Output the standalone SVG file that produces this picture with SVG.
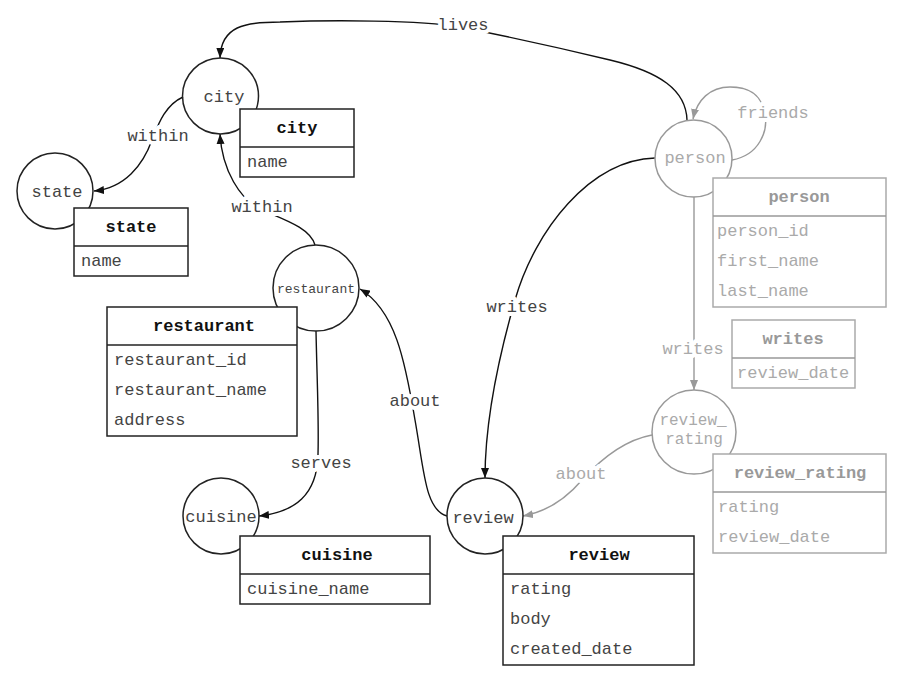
<svg xmlns="http://www.w3.org/2000/svg" width="903" height="673" viewBox="0 0 903 673">
<style>
text{font-family:"Liberation Mono","Courier New",monospace;font-size:17px}
.c{text-anchor:middle}
.k{fill:#444}
.g{fill:#aaa}
.hk{font-weight:bold;fill:#111}
.hg{font-weight:bold;fill:#999}
.nk{fill:none;stroke:#222;stroke-width:1.5}
.ng{fill:none;stroke:#999;stroke-width:1.5}
.bk{fill:#fff;stroke:#222;stroke-width:1.5}
.bg{fill:#fff;stroke:#aaa;stroke-width:1.5}
.ek{fill:none;stroke:#111;stroke-width:1.4}
.eg{fill:none;stroke:#999;stroke-width:1.4}
.lbl{paint-order:stroke;stroke:#fff;stroke-width:8px;stroke-linejoin:round}
</style>
<defs>
<marker id="ak" viewBox="0 0 10 8" refX="10" refY="4" markerWidth="10" markerHeight="8" markerUnits="userSpaceOnUse" orient="auto"><path d="M0,0 L10,4 L0,8 z" fill="#111"/></marker>
<marker id="ag" viewBox="0 0 10 8" refX="10" refY="4" markerWidth="10" markerHeight="8" markerUnits="userSpaceOnUse" orient="auto"><path d="M0,0 L10,4 L0,8 z" fill="#999"/></marker>
</defs>
<rect width="903" height="673" fill="#fff"/>

<g id="connectors">
<path id="e-lives" class="ek" marker-end="url(#ak)" d="M687,120 C686,90 660,72 610,60 C560,48 500,35 460,27 C420,20 330,20 280,22 C245,22 221,26 220,58"/>
<path id="e-within-cs" class="ek" marker-end="url(#ak)" d="M183,97 C165,105 158,125 152,140 C143,165 125,188 94,191"/>
<path id="e-within-rc" class="ek" marker-end="url(#ak)" d="M315,245 C310,228 285,220 262,210 C240,200 222,170 220,134"/>
<path id="e-serves" class="ek" marker-end="url(#ak)" d="M316,331 C317,380 319,420 318,455 C317,495 295,512 259,516"/>
<path id="e-about-rr" class="ek" marker-end="url(#ak)" d="M447,516 C425,510 424,470 415,420 C405,360 395,310 360,289"/>
<path id="e-writes-pr" class="ek" marker-end="url(#ak)" d="M655,158 C590,160 535,230 515,300 C495,370 485,430 485,478"/>
<path id="e-writes-prr" class="eg" marker-end="url(#ag)" d="M694,197 L694,390"/>
<path id="e-about-rrr" class="eg" marker-end="url(#ag)" d="M652,435 C625,440 600,460 582,480 C565,500 545,512 523,516"/>
<path id="e-friends" class="eg" marker-end="url(#ag)" d="M732,160 C760,155 768,130 765,115 C762,95 750,87 730,87 C710,87 697,100 693,119"/>
<text class="c k lbl" x="463" y="30">lives</text>
<text class="c k lbl" x="158" y="141">within</text>
<text class="c k lbl" x="262" y="212">within</text>
<text class="c k lbl" x="321" y="468">serves</text>
<text class="c k lbl" x="415" y="406">about</text>
<text class="c k lbl" x="517" y="312">writes</text>
<text class="c g lbl" x="693" y="354">writes</text>
<text class="c g lbl" x="581" y="479">about</text>
<text class="c g lbl" x="773" y="118">friends</text>
</g>

<g id="node-city">
<circle class="nk" cx="220.5" cy="96" r="38" fill="#fff"/>
<text class="c k" x="224" y="102">city</text>
<rect class="bk" x="240" y="109" width="114" height="68"/>
<line class="nk" x1="240" y1="147" x2="354" y2="147"/>
<text class="c hk" x="297" y="133">city</text>
<text class="k" x="247" y="167">name</text>
</g>

<g id="node-state">
<circle class="nk" cx="55" cy="191" r="38"/>
<text class="c k" x="57" y="197">state</text>
<rect class="bk" x="74" y="208" width="114" height="68"/>
<line class="nk" x1="74" y1="246" x2="188" y2="246"/>
<text class="c hk" x="131" y="232">state</text>
<text class="k" x="81" y="266">name</text>
</g>

<g id="node-restaurant">
<circle class="nk" cx="316" cy="288" r="43"/>
<text class="c k" x="316" y="293" style="font-size:13px">restaurant</text>
<rect class="bk" x="107" y="307" width="190" height="129"/>
<line class="nk" x1="107" y1="345" x2="297" y2="345"/>
<text class="c hk" x="204" y="331">restaurant</text>
<text class="k" x="114" y="365">restaurant_id</text>
<text class="k" x="114" y="395">restaurant_name</text>
<text class="k" x="114" y="425">address</text>
</g>

<g id="node-cuisine">
<circle class="nk" cx="221" cy="516" r="38"/>
<text class="c k" x="221" y="522">cuisine</text>
<rect class="bk" x="240" y="536" width="190" height="68"/>
<line class="nk" x1="240" y1="574" x2="430" y2="574"/>
<text class="c hk" x="337" y="560">cuisine</text>
<text class="k" x="247" y="594">cuisine_name</text>
</g>

<g id="node-review">
<circle class="nk" cx="485" cy="516" r="38"/>
<text class="c k" x="483" y="523">review</text>
<rect class="bk" x="503" y="536" width="191" height="129"/>
<line class="nk" x1="503" y1="574" x2="694" y2="574"/>
<text class="c hk" x="599" y="560">review</text>
<text class="k" x="510" y="594">rating</text>
<text class="k" x="510" y="624">body</text>
<text class="k" x="510" y="654">created_date</text>
</g>

<g id="node-person">
<circle class="ng" cx="693.5" cy="158.5" r="38.5"/>
<text class="c g" x="695" y="163">person</text>
<rect class="bg" x="713" y="178" width="173" height="129"/>
<line class="ng" x1="713" y1="216" x2="886" y2="216"/>
<text class="c hg" x="799" y="202">person</text>
<text class="g" x="717" y="236">person_id</text>
<text class="g" x="717" y="266">first_name</text>
<text class="g" x="717" y="296">last_name</text>
</g>

<g id="node-writes">
<rect class="bg" x="732" y="320" width="123" height="68"/>
<line class="ng" x1="732" y1="358" x2="855" y2="358"/>
<text class="c hg" x="793" y="344">writes</text>
<text class="g" x="737" y="378">review_date</text>
</g>

<g id="node-review_rating">
<circle class="ng" cx="694" cy="432" r="42"/>
<text class="c g" x="693" y="425" style="font-size:16px">review_</text>
<text class="c g" x="694" y="444" style="font-size:16px">rating</text>
<rect class="bg" x="713" y="454" width="173" height="99"/>
<line class="ng" x1="713" y1="492" x2="886" y2="492"/>
<text class="c hg" x="800" y="478">review_rating</text>
<text class="g" x="718" y="512">rating</text>
<text class="g" x="718" y="542">review_date</text>
</g>
</svg>
